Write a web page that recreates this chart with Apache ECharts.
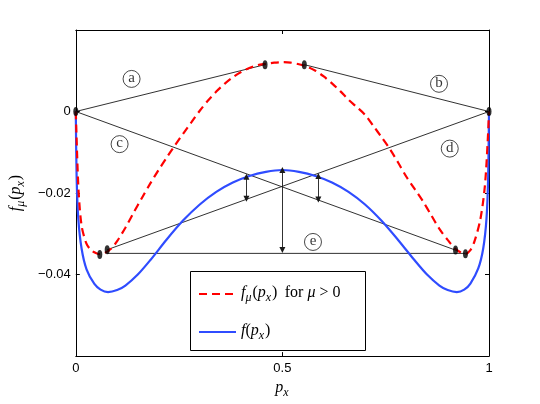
<!DOCTYPE html>
<html><head><meta charset="utf-8">
<script src="https://cdn.jsdelivr.net/npm/echarts@6/dist/echarts.min.js"></script>
<style>html,body{margin:0;padding:0;background:#fff}#c{width:540px;height:404px}</style>
</head><body><div id="c"></div>
<script>
// ---- data ----
const xTicks = [0, 0.5, 1];
const yTicks = [0, -0.02, -0.04];

const fX = [0, 0.002, 0.006, 0.014, 0.026, 0.045, 0.06, 0.078, 0.10, 0.12, 0.15, 0.18, 0.22, 0.26, 0.30, 0.34, 0.38, 0.42, 0.46, 0.50,
            0.54, 0.58, 0.62, 0.66, 0.70, 0.74, 0.78, 0.82, 0.85, 0.88, 0.90, 0.922, 0.94, 0.955, 0.974, 0.986, 0.994, 0.998, 1];
const fY = [0, -0.0160, -0.0262, -0.0336, -0.0387, -0.0423, -0.0437, -0.0443, -0.0438, -0.0427, -0.0400, -0.0365, -0.0314, -0.0267, -0.0228, -0.0197, -0.0174, -0.0158, -0.0148, -0.01435,
            -0.0148, -0.0158, -0.0174, -0.0197, -0.0228, -0.0268, -0.0315, -0.0365, -0.0400, -0.0427, -0.0438, -0.0443, -0.0437, -0.0422, -0.0385, -0.0336, -0.0262, -0.0160, 0];

const fmuX = [0, 0.003, 0.007, 0.014, 0.025, 0.035, 0.046, 0.057, 0.07, 0.086, 0.10, 0.12, 0.14, 0.16, 0.18, 0.20, 0.22, 0.24, 0.26, 0.28, 0.30, 0.32, 0.34, 0.36, 0.38, 0.40, 0.42, 0.44, 0.46, 0.48, 0.50,
              0.52, 0.54, 0.56, 0.58, 0.60, 0.62, 0.64, 0.66, 0.68, 0.70, 0.72, 0.74, 0.76, 0.78, 0.80, 0.82, 0.84, 0.86, 0.88, 0.90, 0.92, 0.943, 0.955, 0.965, 0.979, 0.990, 0.997, 1];
const fmuY = [0, -0.010, -0.020, -0.0280, -0.0322, -0.0338, -0.0346, -0.0350, -0.0347, -0.0336, -0.0318, -0.0285, -0.0248, -0.0212, -0.0177, -0.0144, -0.0113, -0.0083, -0.0054, -0.0026, 0.0002, 0.0027, 0.0049, 0.0068, 0.0084, 0.0097, 0.0107, 0.0114, 0.0117, 0.0120, 0.0121,
              0.0120, 0.0116, 0.0110, 0.0100, 0.0086, 0.0069, 0.0050, 0.0029, 0.0011, -0.0008, -0.0035, -0.0063, -0.0092, -0.0125, -0.0160, -0.0190, -0.0220, -0.0254, -0.0288, -0.0315, -0.0338, -0.0349, -0.0340, -0.0318, -0.0265, -0.0183, -0.0070, 0];

// chords (a)-(e): [x1, y1, x2, y2]
const chordA = [0, 0, 0.458, 0.0115];
const chordB = [0.553, 0.0115, 1, 0];
const chordC = [0, 0, 0.919, -0.0340];
const chordD = [0.076, -0.0339, 1, 0];
const chordE = [0.076, -0.0348, 0.943, -0.0348];

// black points
const dotX = [0, 1, 0.458, 0.553, 0.058, 0.076, 0.919, 0.943];
const dotY = [0, 0, 0.0115, 0.0115, -0.0351, -0.0339, -0.0340, -0.0349];

// double arrows: [x, yTop, yBottom]
const arrow1 = [0.413, -0.0160, -0.0214];
const arrow2 = [0.5, -0.01435, -0.0340];
const arrow3 = [0.587, -0.0158, -0.0216];

// circled labels
const tagNames = ['a', 'b', 'c', 'd', 'e'];
const tagX = [0.135, 0.879, 0.106, 0.905, 0.574];
const tagY = [0.0080, 0.0068, -0.0080, -0.0091, -0.0320];

// ---- chart ----
const serif = "'Liberation Serif','DejaVu Serif',serif";
const sans = "'Liberation Sans','DejaVu Sans',Arial,sans-serif";
const rich = {
  i: {fontFamily: serif, fontStyle: 'italic', fontSize: 16, color: '#000', verticalAlign: 'top', lineHeight: 18},
  r: {fontFamily: serif, fontSize: 16, color: '#000', verticalAlign: 'top', lineHeight: 18},
  s: {fontFamily: serif, fontStyle: 'italic', fontSize: 12, color: '#000', verticalAlign: 'top', lineHeight: 18, padding: [7, 1, 0, 0]}
};
const zip = (xs, ys) => xs.map((x, k) => [x, ys[k]]);
const seg = c => [[c[0], c[1]], [c[2], c[3]]];

const chordSeries = [chordA, chordB, chordC, chordD, chordE].map(c => ({
  type: 'line', data: seg(c), symbol: 'none', silent: true, z: 3,
  lineStyle: {color: '#1a1a1a', width: 0.9}
}));

const arrowData = [arrow1, arrow2, arrow3].map(a => [{coord: [a[0], a[1]]}, {coord: [a[0], a[2]]}]);

const axisBase = {
  type: 'value',
  axisLine: {onZero: false, lineStyle: {color: '#000', width: 1}},
  axisTick: {inside: true, length: 4, lineStyle: {color: '#000'}},
  splitLine: {show: false}
};

const chart = echarts.init(document.getElementById('c'));
chart.setOption({
  animation: false,
  backgroundColor: '#fff',
  grid: {left: 70, right: 51, top: 30, bottom: 45, show: false},
  xAxis: [Object.assign({}, axisBase, {
    min: xTicks[0], max: xTicks[2], interval: 0.5, position: 'bottom',
    axisLabel: {fontFamily: sans, fontSize: 13, color: '#000', margin: 6, formatter: v => String(v)},
    name: '{i|p}{s|x}', nameLocation: 'middle', nameGap: 17,
    nameTextStyle: {rich: rich}
  }), Object.assign({}, axisBase, {
    min: xTicks[0], max: xTicks[2], interval: 0.5, position: 'top',
    axisLabel: {show: false}
  })],
  yAxis: [Object.assign({}, axisBase, {
    min: -0.06, max: 0.02, interval: 0.02, position: 'left',
    axisLabel: {fontFamily: sans, fontSize: 13, color: '#000', margin: 5, showMinLabel: false, showMaxLabel: false,
      formatter: v => (yTicks.some(t => Math.abs(t - v) < 1e-9) ? (v < 0 ? '\u2212' + String(Math.abs(+v.toFixed(2))) : '0') : '')},
    name: '{i|f}{s|μ}{r|(}{i|p}{s|x}{r|)}', nameLocation: 'middle', nameGap: 33, nameRotate: 90,
    nameTextStyle: {rich: rich}
  }), Object.assign({}, axisBase, {
    min: -0.06, max: 0.02, interval: 0.02, position: 'right',
    axisLabel: {show: false}
  })],
  legend: {
    orient: 'vertical', left: 190, top: 281, itemWidth: 37, itemHeight: 14, itemGap: 19,
    padding: [4, 8, 4, 8],
    itemStyle: {opacity: 0},
    data: ['fmu', 'f'],
    formatter: n => n === 'fmu'
      ? '{i|f}{s|μ}{r|(}{i|p}{s|x}{r|)} {r| for }{i|μ}{r| > 0}'
      : '{i|f}{r|(}{i|p}{s|x}{r|)}',
    textStyle: {rich: rich}
  },
  graphic: [{
    type: 'rect', left: 190, top: 271, z: 0,
    shape: {width: 175, height: 79},
    style: {fill: '#fff', stroke: '#000', lineWidth: 1}
  }],
  series: [
    {
      name: 'f', type: 'line', data: zip(fX, fY), symbol: 'none', smooth: 0.3, z: 4,
      lineStyle: {color: '#2f4cff', width: 2.2}, itemStyle: {color: '#2f4cff'},
      markLine: {
        silent: true, symbol: ['triangle', 'triangle'], symbolSize: [6, 6],
        label: {show: false},
        lineStyle: {color: '#1a1a1a', width: 0.9, type: 'solid'},
        itemStyle: {color: '#1a1a1a'},
        data: arrowData
      }
    },
    {
      name: 'fmu', type: 'line', data: zip(fmuX, fmuY), symbol: 'none', smooth: 0.3, z: 4,
      lineStyle: {color: '#ff0000', width: 2.2, type: [8, 5]}, itemStyle: {color: '#ff0000'}
    },
    ...chordSeries,
    {
      type: 'scatter', data: zip(dotX, dotY), symbol: 'circle', symbolSize: [5, 9], z: 6, silent: true,
      itemStyle: {color: '#000'}
    },
    {
      type: 'scatter', data: tagX.map((x, k) => ({value: [x, tagY[k]], name: tagNames[k]})),
      symbol: 'circle', symbolSize: 17, z: 6, silent: true,
      itemStyle: {color: 'rgba(255,255,255,0)', borderColor: '#000', borderWidth: 0.9},
      label: {show: true, position: 'inside', formatter: p => p.name, fontFamily: serif, fontSize: 15, color: '#000', offset: [0, -1]}
    }
  ]
});
</script></body></html>
